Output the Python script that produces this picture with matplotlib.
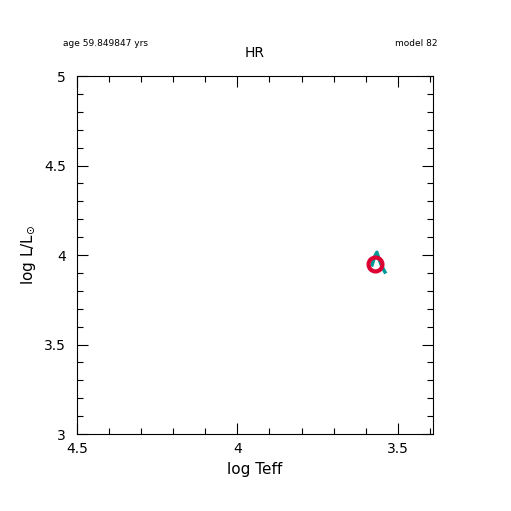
import matplotlib
matplotlib.use("Agg")
import matplotlib.pyplot as plt
from matplotlib.ticker import MultipleLocator

# evolutionary track (log Teff, log L)
track_teff = [3.580, 3.572, 3.565, 3.558, 3.549, 3.540]
track_logl = [3.945, 3.990, 4.015, 3.975, 3.935, 3.905]
# current model
cur_teff = [3.571]
cur_logl = [3.950]

fig = plt.figure(figsize=(5.11, 5.11), dpi=100)
ax = fig.add_axes([77/511, 1-434/511, (433-77)/511, (434-76)/511])

ax.plot(track_teff, track_logl, color="#009999", lw=2.5)
ax.plot(cur_teff, cur_logl, "o", ms=10, mfc="none", mec="#dd0033", mew=3)

ax.set_xlim(4.5, 3.39)
ax.set_ylim(3, 5)
ax.xaxis.set_minor_locator(MultipleLocator(0.1))
ax.yaxis.set_minor_locator(MultipleLocator(0.1))
ax.tick_params(which="both", direction="in", top=True, right=True, labelsize=10)
ax.tick_params(which="major", length=8, width=0.8)
ax.tick_params(which="minor", length=4, width=0.8)
ax.tick_params(axis="x", pad=6)
ax.tick_params(axis="y", pad=8)
ax.set_xticks([4.5, 4, 3.5])
ax.set_xticklabels(["4.5", "4", "3.5"])
ax.set_yticks([3, 3.5, 4, 4.5, 5])
ax.set_yticklabels(["3", "3.5", "4", "4.5", "5"])
for s in ax.spines.values():
    s.set_linewidth(0.8)

ax.set_xlabel("log Teff", fontsize=11)
ax.set_ylabel(r"log L/L$_{\odot}$", fontsize=11)
ax.set_title("HR", fontsize=10, pad=14)
fig.text(63/511, 1-44/511, "age 59.849847 yrs", fontsize=6.5, va="center")
fig.text(437/511, 1-44/511, "model 82", fontsize=6.5, va="center", ha="right")

fig.savefig("out.png", dpi=100)
